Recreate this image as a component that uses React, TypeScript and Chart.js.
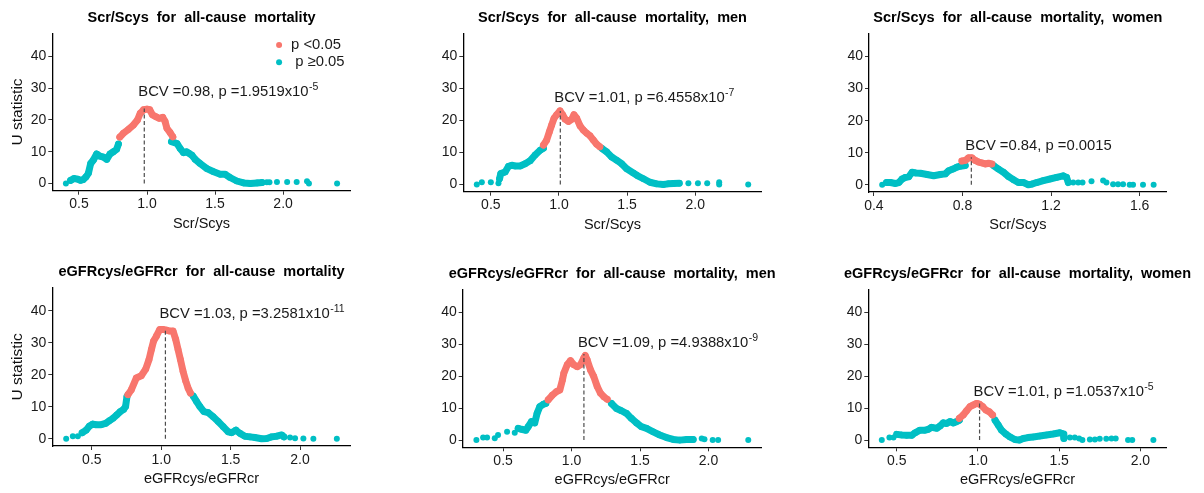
import React, { useEffect, useRef } from "react";
import { Chart, registerables } from "chart.js";
Chart.register(...registerables);

const RED = "#F8766D";
const TEAL = "#00BFC4";
const FONT = "'Liberation Sans', Arial, Helvetica, sans-serif";

// ---------- text ----------
const titles = [
  "Scr/Scys  for  all-cause  mortality",
  "Scr/Scys  for  all-cause  mortality,  men",
  "Scr/Scys  for  all-cause  mortality,  women",
  "eGFRcys/eGFRcr  for  all-cause  mortality",
  "eGFRcys/eGFRcr  for  all-cause  mortality,  men",
  "eGFRcys/eGFRcr  for  all-cause  mortality,  women",
];
const xAxisTitles = ["Scr/Scys", "Scr/Scys", "Scr/Scys", "eGFRcys/eGFRcr", "eGFRcys/eGFRcr", "eGFRcys/eGFRcr"];
const yAxisTitle = "U statistic";
const legendLabels = ["p <0.05", " p \u22650.05"];

// ---------- ticks / ranges ----------
const yTicks = [0, 10, 20, 30, 40];
const yRange = [-2.25, 47.25];
const xTicksA = [0.5, 1.0, 1.5, 2.0];
const xTicksB = [0.4, 0.8, 1.2, 1.6];
const xRanges = [
  [0.304, 2.497],
  [0.298, 2.488],
  [0.378, 1.722],
  [0.215, 2.365],
  [0.205, 2.388],
  [0.325, 2.162],
];

// ---------- annotations ----------
const bcv = [0.98, 1.01, 0.84, 1.03, 1.09, 1.01];
const peakU = [23.6, 23.0, 8.6, 34.6, 27.0, 11.5];
const labelY = [27.6, 25.7, 11.0, 37.9, 29.2, 13.8];
const pMain = ["1.9519x10", "6.4558x10", "0.0015", "3.2581x10", "4.9388x10", "1.0537x10"];
const pExp = ["-5", "-7", "", "-11", "-9", "-5"];

// ---------- data: panel 1 ----------
const p1SparseL = [[0.404, 0]];
const p1TealL = [[0.439, 1.0], [0.463, 1.6], [0.488, 1.4], [0.512, 1.0], [0.53, 1.2], [0.552, 2.1], [0.569, 3.2], [0.586, 6.3], [0.606, 7.4], [0.63, 9.3], [0.655, 8.6], [0.68, 8.3], [0.704, 7.6], [0.728, 9.3], [0.753, 10.0], [0.777, 10.8], [0.79, 12.4]];
const p1Red = [[0.80, 14.6], [0.826, 15.8], [0.863, 17.0], [0.9, 18.4], [0.93, 20.0], [0.95, 22.1], [0.974, 23.2], [1.0, 23.4], [1.02, 23.2], [1.04, 21.6], [1.067, 21.0], [1.09, 20.5], [1.116, 20.8], [1.133, 19.5], [1.146, 17.4], [1.17, 16.0], [1.19, 14.7]];
const p1TealR = [[1.18, 13.2], [1.22, 12.6], [1.244, 11.0], [1.268, 9.7], [1.29, 10.0], [1.305, 9.6], [1.33, 8.9], [1.354, 7.6], [1.39, 6.3], [1.44, 4.7], [1.49, 3.7], [1.538, 2.9], [1.575, 2.9], [1.61, 1.9], [1.66, 0.8], [1.71, 0.2], [1.76, 0.0], [1.81, 0.2], [1.845, 0.3]];
const p1SparseR = [[1.88, 0.4], [1.9, 0.4], [1.955, 0.5], [2.03, 0.5], [2.1, 0.5], [2.176, 0.7], [2.19, 0.0], [2.397, 0.0]];

// ---------- data: panel 2 ----------
const p2SparseL = [[0.397, 0], [0.434, 0.7], [0.5, 0.7], [0.556, 0.4]];
const p2TealL = [[0.564, 1.8], [0.573, 3.4], [0.605, 3.9], [0.63, 5.7], [0.654, 6.0], [0.68, 5.8], [0.715, 5.8], [0.752, 6.5], [0.788, 7.4], [0.825, 9.2], [0.862, 10.7], [0.886, 11.3]];
const p2Red = [[0.886, 12.3], [0.91, 13.9], [0.93, 16.5], [0.947, 18.6], [0.964, 20.7], [0.983, 21.8], [1.008, 23.0], [1.027, 21.8], [1.045, 20.4], [1.069, 19.7], [1.094, 20.4], [1.11, 21.8], [1.13, 20.7], [1.155, 18.3], [1.179, 17.0], [1.204, 16.0], [1.228, 15.2], [1.252, 13.9], [1.277, 12.6], [1.3, 11.8]];
const p2TealR = [[1.314, 11.3], [1.35, 10.2], [1.387, 8.6], [1.423, 7.6], [1.46, 6.5], [1.497, 4.9], [1.546, 3.6], [1.575, 2.8], [1.62, 1.8], [1.668, 0.7], [1.717, 0.2], [1.766, 0], [1.8, 0.2], [1.84, 0.3], [1.883, 0.4]];
const p2SparseR = [[1.95, 0.4], [2.02, 0.4], [2.088, 0.4], [2.176, 0.7], [2.176, 0], [2.389, 0]];

// ---------- data: panel 3 ----------
const p3SparseL = [[0.4375, 0]];
const p3TealL = [[0.457, 0.7], [0.475, 0.7], [0.4975, 0.4], [0.5125, 0.7], [0.5275, 1.8], [0.5425, 2.3], [0.5575, 2.5], [0.5725, 3.9], [0.5875, 3.7], [0.61, 3.6], [0.64, 3.2], [0.67, 2.8], [0.7, 3.2], [0.7225, 3.4], [0.7375, 4.4], [0.757, 4.9], [0.775, 5.5], [0.79, 5.8], [0.8125, 6.0]];
const p3Red = [[0.7975, 7.4], [0.8125, 7.6], [0.8275, 8.4], [0.8425, 8.4], [0.8575, 7.6], [0.8725, 7.1], [0.8875, 6.8], [0.9025, 6.5], [0.9175, 6.7], [0.9325, 6.5]];
const p3TealR = [[0.94, 6.0], [0.9625, 4.9], [0.985, 3.9], [1.0075, 2.6], [1.03, 1.6], [1.0525, 0.7], [1.075, 0.7], [1.0975, 0], [1.1125, 0.2], [1.135, 0.7], [1.165, 1.3], [1.195, 1.8], [1.225, 2.3], [1.255, 2.8], [1.27, 2.3], [1.2775, 0.7]];
const p3SparseR = [[1.3, 0.7], [1.3225, 0.7], [1.342, 0.7], [1.3825, 1.1], [1.435, 1.3], [1.45, 0.7], [1.48, 0.2], [1.5025, 0.2], [1.525, 0.2], [1.555, 0], [1.57, 0], [1.615, 0], [1.663, 0]];

// ---------- data: panel 4 ----------
const p4SparseL = [[0.315, 0], [0.363, 0.8], [0.399, 0.8]];
const p4TealL = [[0.43, 1.9], [0.459, 2.7], [0.483, 4.0], [0.507, 4.6], [0.53, 4.4], [0.567, 4.4], [0.599, 4.8], [0.628, 5.7], [0.652, 6.4], [0.68, 7.5], [0.705, 8.5], [0.729, 9.2], [0.743, 10.1], [0.753, 13.2]];
const p4Red = [[0.76, 13.8], [0.784, 15.3], [0.82, 19.0], [0.856, 19.7], [0.888, 21.8], [0.912, 24.8], [0.929, 27.9], [0.945, 30.6], [0.965, 32.1], [0.989, 34.2], [1.013, 34.2], [1.037, 34.0], [1.061, 33.7], [1.085, 33.7], [1.104, 31.1], [1.121, 27.9], [1.138, 24.8], [1.157, 21.1], [1.177, 18.0], [1.193, 15.9], [1.21, 14.3]];
const p4TealR = [[1.23, 13.4], [1.254, 11.7], [1.278, 10.1], [1.307, 8.5], [1.338, 8.2], [1.374, 6.9], [1.41, 5.4], [1.446, 3.8], [1.482, 2.2], [1.506, 1.9], [1.538, 2.7], [1.567, 1.7], [1.603, 0.8], [1.639, 0.6], [1.675, 0.4], [1.723, 0], [1.76, 0.1], [1.795, 0.6], [1.83, 0.8], [1.868, 1.2], [1.884, 0.6]];
const p4SparseR = [[1.928, 0.4], [1.964, 0.2], [2.024, 0.1], [2.096, 0], [2.265, 0]];

// ---------- data: panel 5 ----------
const p5SparseL = [[0.305, 0], [0.354, 0.8], [0.383, 0.8], [0.439, 0.6], [0.463, 1.6], [0.529, 2.6], [0.585, 2.3]];
const p5TealL = [[0.61, 3.7], [0.634, 3.4], [0.666, 3.1], [0.683, 4.2], [0.707, 5.8], [0.731, 5.4], [0.748, 8.4], [0.768, 10.5], [0.797, 11.3], [0.812, 11.5]];
const p5Red = [[0.829, 12.6], [0.86, 14.1], [0.89, 15.2], [0.914, 15.7], [0.933, 18.8], [0.943, 20.9], [0.968, 23.6], [0.992, 24.9], [1.016, 23.6], [1.041, 23.0], [1.065, 23.6], [1.089, 25.7], [1.1, 26.5], [1.114, 25.1], [1.138, 22.0], [1.162, 19.9], [1.187, 16.8], [1.211, 14.7], [1.235, 13.6], [1.26, 12.8]];
const p5TealR = [[1.291, 11.5], [1.328, 9.9], [1.364, 9.2], [1.4, 8.4], [1.437, 6.8], [1.474, 5.4], [1.51, 4.2], [1.547, 3.7], [1.596, 2.6], [1.644, 1.6], [1.693, 0.8], [1.742, 0.2], [1.79, 0], [1.84, 0.2], [1.888, 0.2]];
const p5SparseR = [[1.95, 0.5], [1.97, 0.3], [2.03, 0], [2.07, 0], [2.29, 0]];

// ---------- data: panel 6 ----------
const p6SparseL = [[0.408, 0], [0.455, 0.8], [0.48, 0.8]];
const p6TealL = [[0.5, 1.8], [0.531, 1.6], [0.561, 1.5], [0.592, 1.5], [0.613, 2.3], [0.643, 3.1], [0.674, 3.1], [0.695, 3.4], [0.715, 4.0], [0.746, 3.7], [0.766, 4.4], [0.787, 5.4], [0.807, 5.2], [0.828, 5.8], [0.848, 5.4], [0.869, 5.8], [0.885, 6.2]];
const p6Red = [[0.885, 6.8], [0.91, 7.9], [0.93, 9.2], [0.951, 10.5], [0.971, 11.0], [0.992, 11.5], [1.008, 11.3], [1.029, 10.5], [1.049, 9.4], [1.07, 8.9], [1.09, 7.9]];
const p6TealR = [[1.105, 6.3], [1.125, 4.7], [1.145, 3.1], [1.172, 1.9], [1.197, 1.0], [1.227, 0.2], [1.254, 0], [1.279, 0.5], [1.309, 0.8], [1.34, 1.0], [1.381, 1.3], [1.422, 1.6], [1.463, 1.9], [1.504, 2.3], [1.525, 1.9], [1.529, 0.5]];
const p6SparseR = [[1.566, 0.8], [1.596, 0.8], [1.623, 0.5], [1.643, 0], [1.689, 0.2], [1.72, 0.2], [1.75, 0.4], [1.79, 0.4], [1.822, 0.5], [1.848, 0.5], [1.924, 0], [1.95, 0], [2.08, 0]];

const panelData = [
  { sparseL: p1SparseL, tealL: p1TealL, red: p1Red, tealR: p1TealR, sparseR: p1SparseR },
  { sparseL: p2SparseL, tealL: p2TealL, red: p2Red, tealR: p2TealR, sparseR: p2SparseR },
  { sparseL: p3SparseL, tealL: p3TealL, red: p3Red, tealR: p3TealR, sparseR: p3SparseR },
  { sparseL: p4SparseL, tealL: p4TealL, red: p4Red, tealR: p4TealR, sparseR: p4SparseR },
  { sparseL: p5SparseL, tealL: p5TealL, red: p5Red, tealR: p5TealR, sparseR: p5SparseR },
  { sparseL: p6SparseL, tealL: p6TealL, red: p6Red, tealR: p6TealR, sparseR: p6SparseR },
];

// ---------- layout (canvas boxes and plot areas, page px) ----------
const canvasBoxes = [
  [0, 0, 400, 245], [400, 0, 400, 245], [800, 0, 404, 245],
  [0, 245, 400, 248], [400, 245, 400, 248], [800, 245, 404, 248],
];
const plotAreas = [
  [52.3, 33.3, 350.7, 190.7],
  [463.3, 33.3, 761.7, 191.7],
  [869, 33.3, 1166.7, 192],
  [52.3, 287.7, 350.7, 446],
  [462.7, 289.3, 761.7, 447.3],
  [868.3, 289.3, 1166.7, 447.3],
];
const YW = 50;
const XH = 45;

const toXY = (arr: number[][]) => arr.map(([x, y]) => ({ x, y }));

function bandDataset(arr: number[][], color: string) {
  return {
    data: toXY(arr),
    showLine: true,
    borderColor: color,
    backgroundColor: color,
    borderWidth: 7,
    borderCapStyle: "round",
    borderJoinStyle: "round",
    pointRadius: 3.3,
    pointBorderWidth: 0,
    pointHoverRadius: 3.3,
    tension: 0,
  };
}
function dotDataset(arr: number[][], color: string) {
  return {
    data: toXY(arr),
    showLine: false,
    backgroundColor: color,
    borderColor: color,
    pointRadius: 3,
    pointBorderWidth: 0,
    pointHoverRadius: 3,
  };
}

function makeDecor(i: number) {
  return {
    id: "decor" + i,
    afterDatasetsDraw(chart: any) {
      const { ctx, scales } = chart;
      const x = scales.x, y = scales.y;
      const px = x.getPixelForValue(bcv[i]);
      ctx.save();
      ctx.strokeStyle = "#4d4d4d";
      ctx.lineWidth = 1.2;
      ctx.setLineDash([4, 2.5]);
      ctx.beginPath();
      ctx.moveTo(px, y.getPixelForValue(0));
      ctx.lineTo(px, y.getPixelForValue(peakU[i]));
      ctx.stroke();
      ctx.restore();
    },
    afterDraw(chart: any) {
      const { ctx, chartArea: a, scales } = chart;
      const x = scales.x, y = scales.y;
      ctx.save();
      // title
      ctx.fillStyle = "#000";
      ctx.font = `bold 14.5px ${FONT}`;
      ctx.textAlign = "center";
      ctx.textBaseline = "middle";
      ctx.fillText(titles[i], (a.left + a.right) / 2, a.top - 15.5);
      // annotation
      const main = `BCV =${bcv[i].toFixed(2)}, p =${pMain[i]}`;
      const tx = x.getPixelForValue(bcv[i]) - 6;
      const ty = y.getPixelForValue(labelY[i]);
      ctx.fillStyle = "#1a1a1a";
      ctx.font = `14.8px ${FONT}`;
      ctx.textAlign = "left";
      ctx.textBaseline = "alphabetic";
      ctx.fillText(main, tx, ty);
      if (pExp[i]) {
        const w = ctx.measureText(main).width;
        ctx.font = `10.5px ${FONT}`;
        ctx.fillText(pExp[i], tx + w + 0.5, ty - 6);
      }
      // legend (first panel only)
      if (i === 0) {
        const w = a.right - a.left, h = a.bottom - a.top;
        const lx = a.left + 0.76 * w;
        const ly = [a.top + 0.074 * h, a.top + 0.184 * h];
        const cols = [RED, TEAL];
        ctx.font = `14.8px ${FONT}`;
        ctx.textBaseline = "middle";
        for (let k = 0; k < 2; k++) {
          ctx.fillStyle = cols[k];
          ctx.beginPath();
          ctx.arc(lx, ly[k], 3, 0, Math.PI * 2);
          ctx.fill();
          ctx.fillStyle = "#1a1a1a";
          ctx.fillText(legendLabels[k], lx + 12, ly[k]);
        }
      }
      ctx.restore();
    },
  };
}

function Panel({ i }: { i: number }) {
  const ref = useRef<HTMLCanvasElement | null>(null);
  useEffect(() => {
    if (!ref.current) return;
    const [cx, cy, cw, ch] = canvasBoxes[i];
    const [L, T, R, B] = plotAreas[i];
    const d = panelData[i];
    const xt = i === 2 ? xTicksB : xTicksA;
    const isLeft = i % 3 === 0;
    const chart = new Chart(ref.current, {
      type: "scatter",
      data: {
        datasets: [
          bandDataset(d.red, RED),
          bandDataset(d.tealL, TEAL),
          bandDataset(d.tealR, TEAL),
          dotDataset(d.sparseL, TEAL),
          dotDataset(d.sparseR, TEAL),
        ] as any,
      },
      options: {
        animation: false,
        responsive: false,
        devicePixelRatio: 1,
        events: [],
        layout: {
          padding: {
            left: L - cx - YW,
            top: T - cy,
            right: cx + cw - R,
            bottom: cy + ch - B - XH,
          },
        },
        plugins: {
          legend: { display: false },
          tooltip: { enabled: false },
          title: { display: false },
        },
        scales: {
          x: {
            type: "linear",
            min: xRanges[i][0],
            max: xRanges[i][1],
            afterBuildTicks: (s: any) => {
              s.ticks = xt.map((v) => ({ value: v }));
            },
            afterFit: (s: any) => {
              s.height = XH;
            },
            border: { display: true, color: "#000", width: 1.3 },
            grid: { display: true, drawOnChartArea: false, drawTicks: true, tickLength: 4, color: "#333", lineWidth: 1 },
            ticks: {
              autoSkip: false,
              maxRotation: 0,
              padding: 1.5,
              color: "#1a1a1a",
              font: { size: 14, family: FONT },
              callback: (v: any) => Number(v).toFixed(1),
            },
            title: {
              display: true,
              text: xAxisTitles[i],
              color: "#111",
              font: { size: 14.5, family: FONT },
              padding: { top: 0, bottom: 3.3 },
            },
          },
          y: {
            type: "linear",
            min: yRange[0],
            max: yRange[1],
            afterBuildTicks: (s: any) => {
              s.ticks = yTicks.map((v) => ({ value: v }));
            },
            afterFit: (s: any) => {
              s.width = YW;
            },
            border: { display: true, color: "#000", width: 1.3 },
            grid: { display: true, drawOnChartArea: false, drawTicks: true, tickLength: 4, color: "#333", lineWidth: 1 },
            ticks: {
              padding: 2,
              color: "#1a1a1a",
              font: { size: 14, family: FONT },
              callback: (v: any) => String(v),
            },
            title: {
              display: isLeft,
              text: yAxisTitle,
              color: "#111",
              font: { size: 15.5, family: FONT },
              padding: { top: 6.5, bottom: 0 },
            },
          },
        },
      } as any,
      plugins: [makeDecor(i)],
    });
    return () => chart.destroy();
  }, [i]);
  const [cx, cy, cw, ch] = canvasBoxes[i];
  return (
    <canvas
      ref={ref}
      width={cw}
      height={ch}
      style={{ position: "absolute", left: cx, top: cy, width: cw, height: ch }}
    />
  );
}

export default function App() {
  return (
    <div style={{ position: "absolute", left: 0, top: 0, width: 1204, height: 493, background: "#fff", overflow: "hidden" }}>
      {[0, 1, 2, 3, 4, 5].map((i) => (
        <Panel key={i} i={i} />
      ))}
    </div>
  );
}
